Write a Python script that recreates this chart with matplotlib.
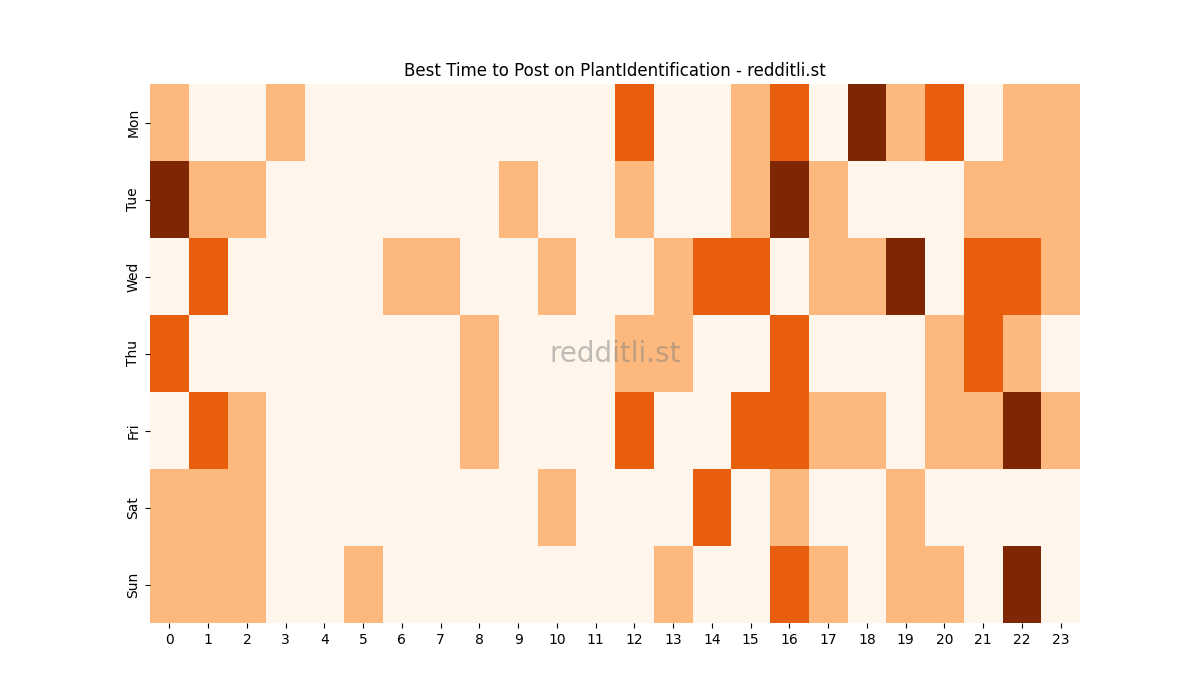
import numpy as np
import matplotlib
matplotlib.use('Agg')
import matplotlib.pyplot as plt
import seaborn as sns

days = ['Mon', 'Tue', 'Wed', 'Thu', 'Fri', 'Sat', 'Sun']
hours = list(range(24))

mon = [1, 0, 0, 1, 0, 0, 0, 0, 0, 0, 0, 0, 2, 0, 0, 1, 2, 0, 3, 1, 2, 0, 1, 1]
tue = [3, 1, 1, 0, 0, 0, 0, 0, 0, 1, 0, 0, 1, 0, 0, 1, 3, 1, 0, 0, 0, 1, 1, 1]
wed = [0, 2, 0, 0, 0, 0, 1, 1, 0, 0, 1, 0, 0, 1, 2, 2, 0, 1, 1, 3, 0, 2, 2, 1]
thu = [2, 0, 0, 0, 0, 0, 0, 0, 1, 0, 0, 0, 1, 1, 0, 0, 2, 0, 0, 0, 1, 2, 1, 0]
fri = [0, 2, 1, 0, 0, 0, 0, 0, 1, 0, 0, 0, 2, 0, 0, 2, 2, 1, 1, 0, 1, 1, 3, 1]
sat = [1, 1, 1, 0, 0, 0, 0, 0, 0, 0, 1, 0, 0, 0, 2, 0, 1, 0, 0, 1, 0, 0, 0, 0]
sun = [1, 1, 1, 0, 0, 1, 0, 0, 0, 0, 0, 0, 0, 1, 0, 0, 2, 1, 0, 1, 1, 0, 3, 0]

data = np.array([mon, tue, wed, thu, fri, sat, sun])

fig, ax = plt.subplots(figsize=(12, 7), dpi=100)
sns.heatmap(data, cmap='Oranges', cbar=False, ax=ax,
            xticklabels=hours, yticklabels=days)
ax.set_title('Best Time to Post on PlantIdentification - redditli.st')
ax.text(0.5, 0.5, 'redditli.st', transform=ax.transAxes, ha='center', va='center',
        fontsize=20, color='grey', alpha=0.5)
plt.savefig('out.png')
